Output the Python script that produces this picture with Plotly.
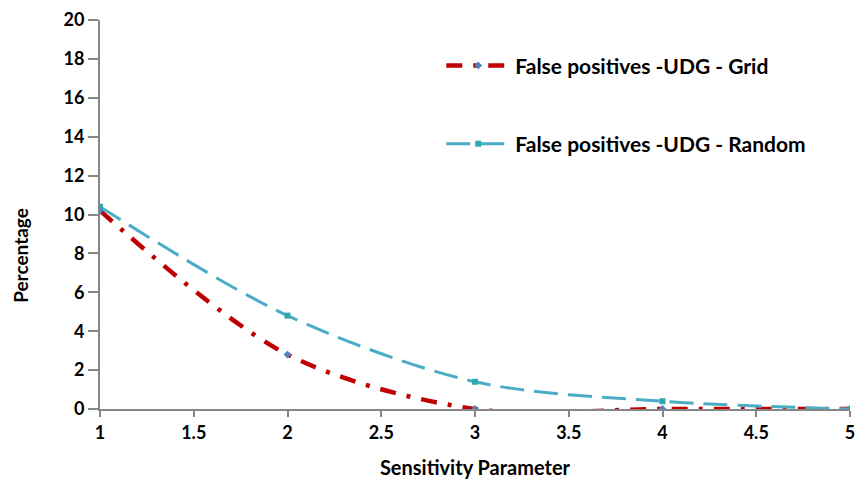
import plotly.graph_objects as go

# Sensitivity parameter values and false-positive percentages
sensitivity = [1, 2, 3, 4, 5]
fp_grid = [10.2, 2.8, 0.0, 0.0, 0.0]
fp_random = [10.4, 4.8, 1.4, 0.4, 0.0]

name_grid = "False positives -UDG - Grid"
name_random = "False positives -UDG - Random"

x_ticks = [1, 1.5, 2, 2.5, 3, 3.5, 4, 4.5, 5]
y_ticks = [0, 2, 4, 6, 8, 10, 12, 14, 16, 18, 20]

FONT = "Lato, 'Open Sans', sans-serif"
AXIS_GREY = "#868686"

fig = go.Figure()

fig.add_trace(go.Scatter(
    x=sensitivity, y=fp_grid, name=name_grid,
    mode="lines+markers",
    line=dict(color="#C00000", width=4.5, shape="spline", smoothing=0.9,
              dash="16px,11px,4px,11px"),
    marker=dict(symbol="diamond", size=6, color="#4F81BD"),
    legendgroup="g1",
))

fig.add_trace(go.Scatter(
    x=sensitivity, y=fp_random, name=name_random,
    mode="lines+markers",
    line=dict(color="#4BACC6", width=3, shape="spline", smoothing=0.9,
              dash="24px,10px"),
    marker=dict(symbol="square", size=6, color="#2FA8B0"),
    legendgroup="g2",
))

# Vertical axis caption, placed a little below the middle of the axis
fig.add_annotation(
    text="Percentage", textangle=-90,
    xref="paper", x=-0.106, xanchor="center",
    yref="y", y=7.9, yanchor="middle",
    showarrow=False,
    font=dict(family=FONT, size=19, color="#000000", weight="bold"),
)

fig.update_layout(
    width=863, height=485,
    margin=dict(l=100, r=8, t=16, b=76),
    paper_bgcolor="white", plot_bgcolor="white",
    font=dict(family=FONT, color="#000000"),
    showlegend=True,
    legend=dict(
        x=0.455, y=0.935, xanchor="left", yanchor="top",
        font=dict(family=FONT, size=21, color="#000000", weight="bold"),
        tracegroupgap=48, bgcolor="rgba(0,0,0,0)", itemwidth=64,
    ),
    xaxis=dict(
        range=[1, 5], tickvals=x_ticks, ticktext=[f"{v:g}" for v in x_ticks],
        showgrid=False, zeroline=False,
        showline=True, linecolor=AXIS_GREY, linewidth=2,
        ticks="outside", tickcolor=AXIS_GREY, ticklen=6, tickwidth=2,
        tickfont=dict(family=FONT, size=18, color="#000000", weight="bold"),
        title=dict(text="Sensitivity Parameter", standoff=19,
                   font=dict(family=FONT, size=20, color="#000000", weight="bold")),
    ),
    yaxis=dict(
        range=[0, 20], tickvals=y_ticks,
        showgrid=False, zeroline=False,
        showline=True, linecolor=AXIS_GREY, linewidth=2,
        ticks="outside", tickcolor=AXIS_GREY, ticklen=10, tickwidth=2,
        tickfont=dict(family=FONT, size=18, color="#000000", weight="bold"),
    ),
)

fig.write_html("out.html")
